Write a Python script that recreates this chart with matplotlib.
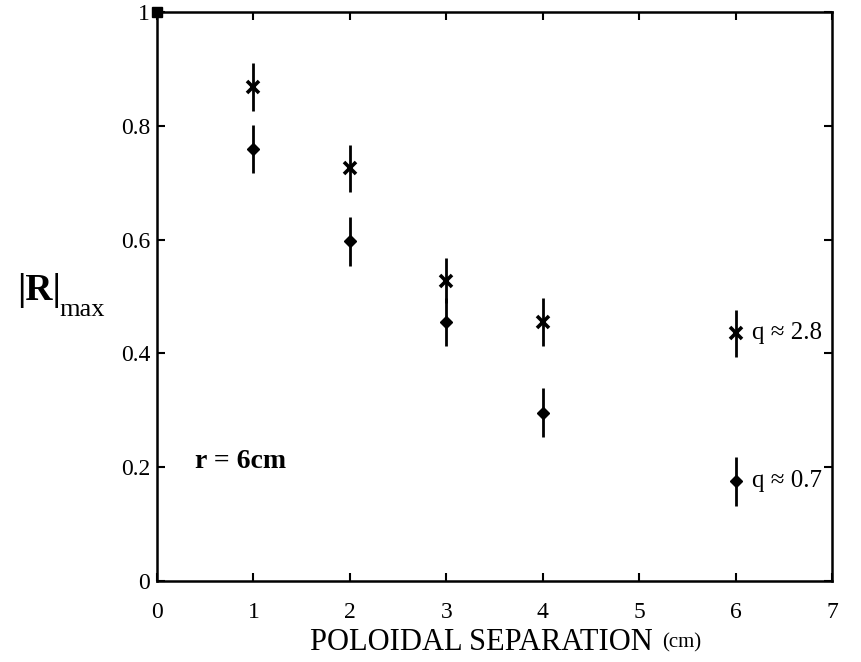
import matplotlib
matplotlib.use("Agg")
import matplotlib.pyplot as plt

# Data
sep_cross = [1, 2, 3, 4, 6]
r_cross = [0.868, 0.725, 0.528, 0.455, 0.435]
err_cross = [0.042, 0.042, 0.040, 0.042, 0.042]

sep_diamond = [1, 2, 3, 4, 6]
r_diamond = [0.759, 0.597, 0.455, 0.296, 0.175]
err_diamond = [0.042, 0.043, 0.042, 0.043, 0.043]

ref_x = [0]
ref_y = [1.0]

xticks = [0, 1, 2, 3, 4, 5, 6, 7]
yticks = [0, 0.2, 0.4, 0.6, 0.8, 1.0]
yticklabels = ["0", "0.2", "0.4", "0.6", "0.8", "1"]

plt.rcParams['font.family'] = ['Liberation Serif', 'DejaVu Serif']

fig = plt.figure(figsize=(8.62, 6.62), dpi=100)
ax = fig.add_axes([157/862, 1 - 581/662, (832-157)/862, (581-12)/662])

ax.errorbar(sep_cross, r_cross, yerr=err_cross, fmt='x', color='black',
            ms=8, mew=2.6, elinewidth=2.0, capsize=0)
ax.errorbar(sep_diamond, r_diamond, yerr=err_diamond, fmt='D', color='black',
            ms=6, elinewidth=2.0, capsize=0)
ax.plot(ref_x, ref_y, 's', color='black', ms=7, clip_on=False)

ax.set_xlim(0, 7)
ax.set_ylim(0, 1)
ax.set_xticks(xticks)
ax.set_xticklabels([str(t) for t in xticks])
ax.set_yticks(yticks)
ax.set_yticklabels(yticklabels)
ax.tick_params(direction='in', top=True, right=True, length=6, width=1.5,
               labelsize=17)
ax.tick_params(axis='x', pad=15)
ax.tick_params(axis='y', pad=5)
for s in ax.spines.values():
    s.set_linewidth(1.8)

ax.text(6.17, r_cross[-1], "q \u2248 2.8", fontsize=18, va='center', ha='left')
ax.text(6.17, r_diamond[-1], "q \u2248 0.7", fontsize=18, va='center', ha='left')
ax.text(0.39, 0.21, "r = 6cm", fontsize=20, fontweight='bold', va='center', ha='left')

fig.text(653/862, 1 - 642/662, "POLOIDAL SEPARATION", fontsize=22, ha='right', va='center')
fig.text(662/862, 1 - 643/662, "(cm)", fontsize=15, ha='left', va='center')

fig.text(17/862, 1 - 290/662, "|R|", fontsize=27, fontweight='bold', ha='left', va='center')
fig.text(59/862, 1 - 310/662, "max", fontsize=19, ha='left', va='center')

fig.savefig("out.png", dpi=100)
